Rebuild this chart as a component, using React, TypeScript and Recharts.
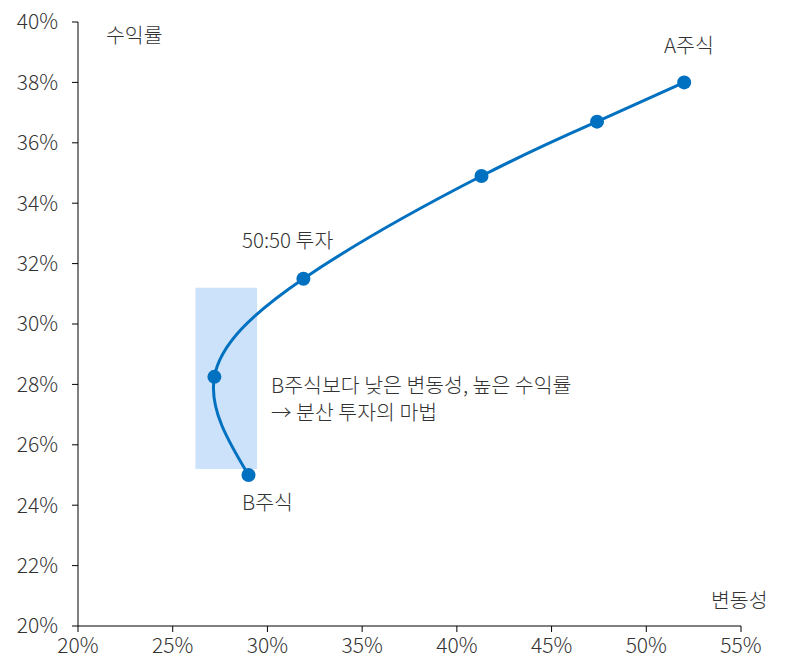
import {
  LineChart,
  Line,
  XAxis,
  YAxis,
  ReferenceArea,
} from "recharts";

// volatility (x, %) and return (y, %) of each portfolio point
const volatility = [29.0, 27.2, 31.9, 41.3, 47.4, 52.0];
const returns = [25.0, 28.25, 31.5, 34.9, 36.7, 38.0];

const xTicks = [20, 25, 30, 35, 40, 45, 50, 55];
const yTicks = [20, 22, 24, 26, 28, 30, 32, 34, 36, 38, 40];

// shaded zone around the min-variance area
const zoneX = [26.2, 29.45];
const zoneY = [25.2, 31.2];

const data = volatility.map((v, i) => ({ x: v, y: returns[i] }));

const font = "'Noto Sans CJK KR', 'Noto Sans', sans-serif";
const blue = "#0070c0";
const textColor = "#333";

const labelStyle: React.CSSProperties = {
  position: "absolute",
  fontFamily: font,
  fontSize: 20.5,
  fontWeight: 300,
  color: textColor,
  whiteSpace: "nowrap",
  lineHeight: "27px",
};

export default function App() {
  return (
    <div
      style={{
        position: "absolute",
        left: 0,
        top: 0,
        width: 785,
        height: 662,
        background: "#fff",
      }}
    >
      <LineChart
        width={785}
        height={662}
        data={data}
        margin={{ top: 22, right: 44, left: 0, bottom: 0 }}
      >
        <ReferenceArea
          x1={zoneX[0]}
          x2={zoneX[1]}
          y1={zoneY[0]}
          y2={zoneY[1]}
          fill="#cce1fa"
          fillOpacity={1}
          stroke="none"
        />

        <XAxis
          dataKey="x"
          type="number"
          domain={[20, 55]}
          ticks={xTicks}
          tickFormatter={(v) => `${v}%`}
          height={36}
          tickSize={6}
          tickMargin={6}
          stroke="#000"
          tick={{ fontSize: 21, fill: textColor, fontFamily: font, fontWeight: 300 }}
        />

        <YAxis
          dataKey="y"
          type="number"
          domain={[20, 40]}
          ticks={yTicks}
          tickFormatter={(v) => `${v}%`}
          width={78}
          tickSize={6}
          tickMargin={14}
          stroke="#000"
          tick={{ fontSize: 21, fill: textColor, fontFamily: font, fontWeight: 300 }}
        />

        <Line
          type="natural"
          dataKey="y"
          stroke={blue}
          strokeWidth={3}
          dot={{ r: 7, fill: blue, stroke: blue, strokeWidth: 0 }}
          activeDot={false}
          isAnimationActive={false}
        />
      </LineChart>

      {/* Annotations */}

      <div style={{ ...labelStyle, left: 106, top: 21 }}>수익률</div>
      <div style={{ ...labelStyle, left: 664, top: 31 }}>A주식</div>
      <div style={{ ...labelStyle, left: 242, top: 226 }}>50:50 투자</div>
      <div style={{ ...labelStyle, left: 271, top: 371 }}>
        B주식보다 낮은 변동성, 높은 수익률
        <br />→ 분산 투자의 마법
      </div>
      <div style={{ ...labelStyle, left: 242, top: 488 }}>B주식</div>
      <div style={{ ...labelStyle, left: 711, top: 586 }}>변동성</div>
    </div>
  );
}
